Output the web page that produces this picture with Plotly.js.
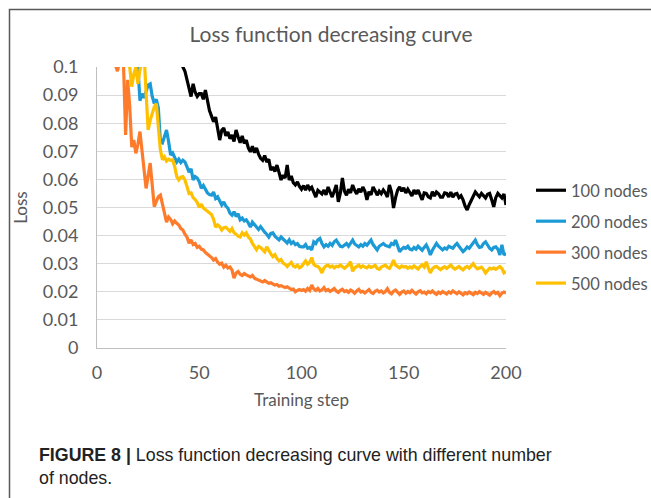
<!DOCTYPE html>
<html>
<head>
<meta charset="utf-8">
<script src="https://cdn.plot.ly/plotly-3.0.1.min.js"></script>
<style>html,body{margin:0;padding:0;background:#fff;}#chart{width:651px;height:498px;}</style>
</head>
<body>
<div id="chart"></div>
<script>
// Series names
const seriesNames = ["100 nodes", "200 nodes", "300 nodes", "500 nodes"];
const seriesColors = ["#000000", "#1C9AD6", "#FF7B2C", "#FFC000"];

// First training step of each listed series (earlier steps lie above the axis range)
const start100 = 41;
const start200 = 19;
const start300 = 8;
const start500 = 15;

const loss100 = [
0.104,0.1,0.0985,0.0955,0.092,0.0895,0.094,0.091,0.0895,0.0905,
0.0905,0.0885,0.0918,0.088,0.0845,0.0825,0.0805,0.0822,0.078,0.074,
0.0775,0.0783,0.0755,0.0769,0.0745,0.0758,0.0735,0.0776,0.0752,0.073,
0.0755,0.0728,0.074,0.0712,0.0698,0.0718,0.0695,0.0712,0.069,0.0675,
0.0668,0.0685,0.0662,0.0672,0.0633,0.0645,0.0628,0.0651,0.0625,0.0598,
0.0615,0.0605,0.0651,0.0598,0.0612,0.0588,0.058,0.0591,0.0575,0.0565,
0.0578,0.0562,0.058,0.0565,0.0572,0.0552,0.0537,0.0561,0.0555,0.0548,
0.0562,0.0545,0.0573,0.0556,0.0537,0.0558,0.058,0.052,0.0552,0.0605,
0.0558,0.0544,0.0565,0.0552,0.058,0.0561,0.0548,0.0566,0.0555,0.0573,
0.0558,0.0527,0.0556,0.0545,0.0573,0.056,0.0544,0.0558,0.0549,0.0562,
0.0552,0.0537,0.058,0.0555,0.0498,0.0535,0.0562,0.0573,0.0558,0.057,
0.0552,0.0565,0.0555,0.0541,0.0562,0.0548,0.0562,0.0545,0.0527,0.0552,
0.055,0.0538,0.0534,0.0556,0.0541,0.0555,0.0549,0.0537,0.0537,0.0552,
0.055,0.0538,0.0555,0.0537,0.0548,0.055,0.0535,0.0542,0.0527,0.0505,
0.0491,0.051,0.0527,0.0542,0.0555,0.0546,0.0538,0.055,0.0541,0.0534,
0.0547,0.055,0.0528,0.0502,0.0535,0.055,0.0542,0.0534,0.0548,0.0509
];

const loss200 = [
0.104,0.1,0.088,0.0905,0.089,0.0911,0.0936,0.094,0.0895,0.087,0.0885,0.0854,
0.0734,0.073,0.0755,0.0776,0.0735,0.0687,0.0694,0.068,0.0662,0.0672,
0.066,0.0668,0.0662,0.0645,0.0626,0.0638,0.0598,0.061,0.0605,0.0592,
0.0568,0.0578,0.0565,0.0552,0.0546,0.0544,0.0555,0.0532,0.0538,0.0522,
0.0509,0.052,0.0505,0.0498,0.048,0.0473,0.0485,0.0468,0.0478,0.0456,
0.0462,0.0452,0.0456,0.0445,0.043,0.0448,0.0438,0.043,0.0422,0.0432,
0.042,0.0412,0.0405,0.0395,0.0408,0.041,0.0398,0.0392,0.0385,0.0395,
0.0388,0.038,0.0374,0.0385,0.0372,0.0378,0.0368,0.0372,0.0362,0.036,
0.036,0.0368,0.0355,0.0358,0.0349,0.0378,0.0372,0.0385,0.039,0.0372,
0.036,0.0368,0.0362,0.0372,0.0365,0.0378,0.0384,0.0372,0.0362,0.036,
0.0368,0.0372,0.0362,0.0375,0.0384,0.037,0.0365,0.036,0.0368,0.0362,
0.0372,0.0366,0.0375,0.0384,0.0368,0.0358,0.0349,0.0362,0.0368,0.0372,
0.0365,0.0362,0.036,0.0372,0.0368,0.0384,0.0365,0.0343,0.0352,0.0358,
0.0355,0.0362,0.0352,0.0349,0.0358,0.0352,0.0362,0.0355,0.0348,0.0358,
0.0367,0.0352,0.0331,0.0348,0.036,0.0372,0.0362,0.0355,0.0349,0.0356,
0.0352,0.0362,0.0358,0.0355,0.0365,0.0372,0.0362,0.0352,0.0343,0.035,
0.036,0.0355,0.0365,0.0372,0.0384,0.0368,0.0358,0.036,0.0372,0.0378,
0.0365,0.0355,0.0349,0.0358,0.036,0.0352,0.0331,0.0367,0.0331,0.0338
];

const loss300 = [
0.103,0.1005,0.0985,0.102,0.105,0.1,0.0758,0.0954,0.086,0.0715,0.074,0.0693,0.0725,
0.077,0.0705,0.0615,0.0568,0.0612,0.0658,0.058,0.0503,0.0522,0.0538,
0.0544,0.0508,0.0475,0.0448,0.0466,0.0458,0.0442,0.0452,0.0444,0.0438,
0.0425,0.042,0.0405,0.0395,0.0373,0.0385,0.0368,0.0372,0.0358,0.0362,
0.0352,0.0349,0.034,0.0335,0.0328,0.0322,0.0313,0.0318,0.0305,0.0298,
0.0302,0.0288,0.0295,0.0285,0.0288,0.0278,0.0249,0.0267,0.0272,0.0262,
0.0258,0.0265,0.026,0.0255,0.0253,0.0258,0.0248,0.0245,0.0242,0.0238,
0.0235,0.024,0.0235,0.023,0.0232,0.0228,0.0224,0.0226,0.022,0.0222,
0.0217,0.0215,0.0218,0.0212,0.0208,0.021,0.02,0.0205,0.0208,0.0205,
0.0208,0.0202,0.0212,0.0205,0.0224,0.021,0.0205,0.0212,0.0203,0.0207,
0.0215,0.0204,0.0208,0.0201,0.0206,0.0212,0.0203,0.0198,0.0205,0.0209,
0.0201,0.0204,0.0198,0.0206,0.0202,0.0195,0.0203,0.0209,0.0199,0.0202,
0.0196,0.0204,0.0208,0.0198,0.0194,0.0202,0.0206,0.0199,0.0203,0.0196,
0.0201,0.0211,0.0198,0.0193,0.0202,0.0206,0.0197,0.0191,0.0199,0.0203,
0.0195,0.0201,0.0197,0.0205,0.0198,0.0192,0.02,0.0204,0.0196,0.0199,
0.0193,0.0201,0.0197,0.0203,0.0196,0.0191,0.0199,0.0194,0.0201,0.0197,
0.0192,0.02,0.0195,0.0203,0.0198,0.0193,0.02,0.0194,0.0189,0.0197,
0.0193,0.0199,0.0195,0.019,0.0198,0.0194,0.0201,0.0196,0.0191,0.0198,
0.0193,0.0188,0.0196,0.0201,0.0194,0.0198,0.0186,0.0195,0.0199,0.0196
];

const loss500 = [
0.104,0.1,0.093,0.0975,0.1,0.094,0.099,0.103,0.105,0.0907,0.0776,
0.081,0.0836,0.0858,0.087,0.0785,0.0705,0.067,0.068,0.0665,0.0672,
0.0668,0.067,0.0645,0.061,0.0598,0.0608,0.061,0.0598,0.0575,0.055,
0.0552,0.0535,0.0528,0.0518,0.05,0.0512,0.0498,0.0492,0.0485,0.048,
0.0475,0.0458,0.043,0.0438,0.0432,0.042,0.0428,0.043,0.0422,0.0415,
0.0425,0.041,0.0405,0.0398,0.0395,0.041,0.0402,0.041,0.0395,0.0388,
0.0372,0.036,0.035,0.0362,0.0358,0.035,0.0342,0.036,0.0345,0.0335,
0.0325,0.0332,0.0318,0.031,0.0315,0.0302,0.0298,0.029,0.0298,0.0305,
0.0292,0.0288,0.0295,0.0285,0.029,
0.0302,0.031,0.0298,0.0305,0.0322,0.0298,0.0292,0.029,0.0282,0.0267,
0.0285,0.0292,0.0295,0.0288,0.0292,0.0285,0.0291,0.0289,0.0295,0.0288,
0.0284,0.029,0.0296,0.0307,0.0273,0.0285,0.029,0.0295,0.0287,0.0292,
0.0288,0.0285,0.0292,0.0287,0.029,0.0294,0.0283,0.028,0.0288,0.0292,
0.0295,0.0287,0.0283,0.0295,0.0313,0.0295,0.0288,0.0285,0.0292,0.0288,
0.029,0.0284,0.0289,0.0285,0.0292,0.0286,0.0281,0.029,0.0296,0.0288,
0.0307,0.0285,0.0267,0.0282,0.0288,0.029,0.0284,0.0279,0.0285,0.0289,
0.0283,0.029,0.0295,0.0286,0.0281,0.0285,0.029,0.0283,0.0278,0.0286,
0.029,0.0284,0.0293,0.03,0.0289,0.0282,0.0285,0.0288,0.0279,0.0267,
0.0276,0.0284,0.0281,0.0285,0.028,0.0286,0.029,0.0283,0.0267,0.0272
];

const xTicks = [0, 50, 100, 150, 200];
const yTicks = [0, 0.01, 0.02, 0.03, 0.04, 0.05, 0.06, 0.07, 0.08, 0.09, 0.1];

const allLoss = [loss100, loss200, loss300, loss500];
const starts = [start100, start200, start300, start500];

const FONT = "Lato, 'Open Sans', sans-serif";
const CAPFONT = "'Liberation Sans Narrow', 'Liberation Sans', Arial, sans-serif";

const traces = allLoss.map((vals, k) => ({
  type: "scatter",
  mode: "lines",
  name: seriesNames[k],
  legendgroup: "g" + k,
  x: vals.map((_, i) => starts[k] + i),
  y: vals,
  line: {color: seriesColors[k], width: 3.2}
}));

// pixel -> paper helpers for decoration only
const L = 97, R = 145, T = 67, B = 150, W = 651, H = 498;
const pw = W - L - R, ph = H - T - B;
const px = v => (v - L) / pw;
const py = v => (H - B - v) / ph;

const layout = {
  width: W, height: H,
  margin: {l: L, r: R, t: T, b: B, pad: 0, autoexpand: false},
  paper_bgcolor: "#ffffff",
  plot_bgcolor: "#ffffff",
  font: {family: FONT, color: "#595959", size: 18},
  title: {
    text: "Loss function decreasing curve",
    font: {family: FONT, size: 21, color: "#595959"},
    x: 331 / W, xref: "container", xanchor: "center",
    y: 1 - 35 / H, yref: "container", yanchor: "middle"
  },
  xaxis: {
    range: [0, 200],
    tickvals: xTicks,
    showgrid: false,
    zeroline: false,
    showline: true, linecolor: "#BFBFBF", linewidth: 1,
    ticks: "outside", ticklen: 8, tickcolor: "rgba(0,0,0,0)",
    tickfont: {family: FONT, size: 18, color: "#595959"},
    title: {text: "Training step", font: {family: FONT, size: 17, color: "#595959"}, standoff: 12}
  },
  yaxis: {
    range: [0, 0.1],
    tickvals: yTicks,
    showgrid: true, gridcolor: "#D9D9D9", gridwidth: 1,
    zeroline: false,
    showline: true, linecolor: "#BFBFBF", linewidth: 1,
    ticks: "outside", ticklen: 14, tickcolor: "rgba(0,0,0,0)",
    tickfont: {family: FONT, size: 18, color: "#595959"},
    title: {text: "Loss", font: {family: FONT, size: 17, color: "#595959"}, standoff: 10}
  },
  showlegend: true,
  legend: {
    x: px(531), y: py(173), xanchor: "left", yanchor: "top",
    font: {family: FONT, size: 16.5, color: "#595959"},
    bgcolor: "rgba(0,0,0,0)",
    traceorder: "grouped",
    tracegroupgap: 6.5,
    itemwidth: 30
  },
  shapes: [
    {type: "rect", xref: "paper", yref: "paper",
     x0: px(9.5), x1: px(700), y0: py(700), y1: py(9.5),
     line: {color: "#595959", width: 1.5}, fillcolor: "rgba(0,0,0,0)", layer: "above"}
  ],
  annotations: [
    {xref: "paper", yref: "paper", x: px(37), y: py(455), xanchor: "left", yanchor: "middle",
     showarrow: false, align: "left",
     text: "<b>FIGURE 8 |</b> Loss function decreasing curve with different number",
     font: {family: CAPFONT, size: 17.8, color: "#222222"}},
    {xref: "paper", yref: "paper", x: px(37), y: py(478), xanchor: "left", yanchor: "middle",
     showarrow: false, align: "left",
     text: "of nodes.",
     font: {family: CAPFONT, size: 17.8, color: "#222222"}}
  ]
};

Plotly.newPlot("chart", traces, layout, {staticPlot: true, displayModeBar: false});
</script>
</body>
</html>
